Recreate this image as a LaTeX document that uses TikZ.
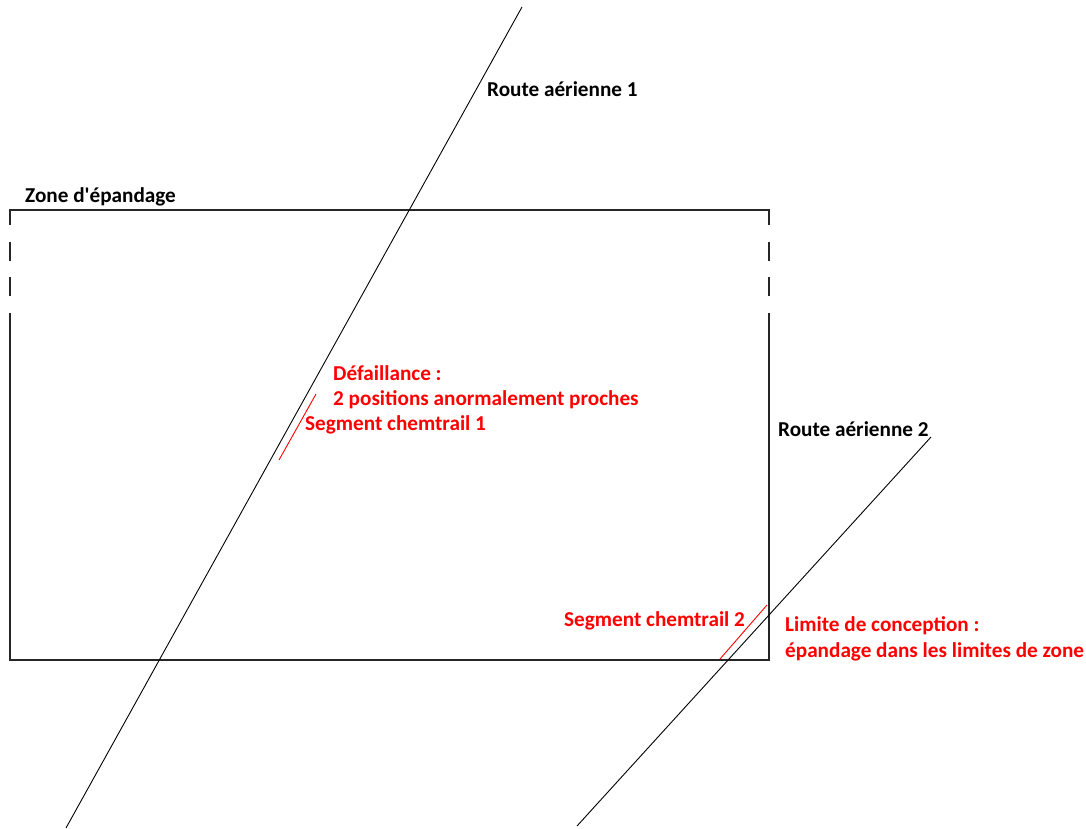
\documentclass[tikz,border=0pt]{standalone}
\usepackage{fontspec}
\setmainfont{Carlito}
\usetikzlibrary{calc}
\tikzset{lbl/.style={anchor=base west, inner sep=0pt, font=\bfseries\fontsize{21.2}{25}\selectfont},
	warn/.style={lbl, text=red}}

\begin{document}
\begin{tikzpicture}[x=1pt,y=-1pt]
\useasboundingbox (0,0) rectangle (1086,829);
% zone d'epandage
\draw[line width=1.3pt, black!85] (10,225) -- (10,210) -- (769,210) -- (769,225);
\draw[line width=1.3pt, black!85] (10,313) -- (10,660) -- (769,660) -- (769,313);
\foreach \x in {10,769}
	\draw[line width=1.3pt, black!85] (\x,242) -- (\x,261) (\x,277) -- (\x,296);
\node[lbl] (zone) at (25,203) {Zone d\textquotesingle épandage};
% routes
\coordinate (r1a) at (522,7);
\coordinate (r1b) at (66,828);
\coordinate (r2a) at (931,437);
\coordinate (r2b) at (577,826);
\draw[line width=0.9pt] (r1a) -- (r1b);
\draw[line width=0.9pt] (r2a) -- (r2b);
\node[lbl] (route1) at (487,97) {Route aérienne 1};
\node[lbl] (route2) at (778,436) {Route aérienne 2};
% segments
\coordinate (s1a) at (316,394);
\coordinate (s1b) at (279,460);
\coordinate (s2a) at (767,605);
\coordinate (s2b) at (720,659);
\draw[red, line width=0.9pt] (s1a) -- (s1b);
\draw[red, line width=0.9pt] (s2a) -- (s2b);
\node[warn] (defail) at (333,380) {Défaillance :};
\node[warn] (proches) at (333,405) {2 positions anormalement proches};
\node[warn] (seg1) at (305,430) {Segment chemtrail 1};
\node[warn] (seg2) at (564,626) {Segment chemtrail 2};
\node[warn] (limite) at (785,631) {Limite de conception :};
\node[warn] (dans) at (785,657) {épandage dans les limites de zone};
\end{tikzpicture}
\end{document}
